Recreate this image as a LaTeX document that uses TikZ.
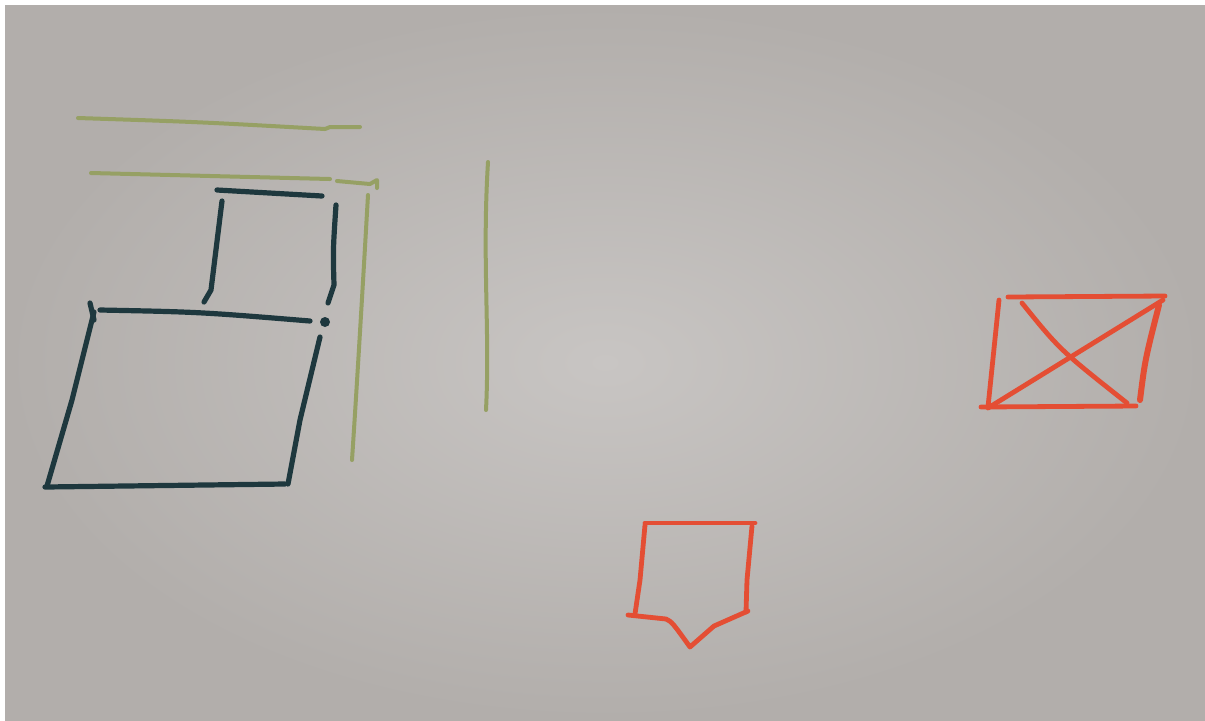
\documentclass[tikz,border=0pt]{standalone}
\definecolor{darkink}{RGB}{30,56,62}
\definecolor{greenink}{RGB}{150,160,100}
\definecolor{redink}{RGB}{228,78,52}
\definecolor{paperin}{RGB}{200,197,195}
\definecolor{paperout}{RGB}{178,174,171}
\begin{document}
\begin{tikzpicture}[x=0.5pt,y=-0.5pt,
  ink/.style={line cap=round,line join=round},
  darkpen/.style={ink,draw=darkink,line width=2.6pt},
  greenpen/.style={ink,draw=greenink,line width=2pt},
  redpen/.style={ink,draw=redink,line width=2.4pt}]
\useasboundingbox (0,0) rectangle (1205,720);
\fill[white] (0,0) rectangle (1205,720);
\shade[inner color=paperin,outer color=paperout] (5,5) rectangle (1205,720);
% green strokes
\draw[greenpen] (78,118) .. controls (200,122) .. (325,129) -- (330,127) -- (360,127);
\draw[greenpen] (91,173) .. controls (210,176) .. (330,179) (337,181) -- (370,184) -- (377,180) -- (377,188);
\draw[greenpen] (368,195) .. controls (362,300) and (356,400) .. (352,460);
\draw[greenpen] (488,162) .. controls (482,260) and (490,330) .. (486,410);
% dark strokes
\draw[darkpen] (217,190) -- (322,196);
\draw[darkpen] (222,201) -- (211,290) -- (204,302);
\draw[darkpen] (336,205) .. controls (333,250) .. (334,285) -- (328,303);
\draw[darkpen] (100,310) .. controls (200,312) .. (310,321);
\draw[darkpen] (90,303) -- (94,320);
\fill[darkink] (325,322) circle (5);
\draw[darkpen] (320,337) -- (300,420) -- (288,484);
\draw[darkpen] (94,312) -- (72,400) -- (47,486);
\draw[darkpen] (45,487) -- (285,484);
% red crossed box
\draw[redpen] (1008,297) -- (1165,296);
\draw[redpen] (999,300) -- (988,407);
\draw[redpen] (981,407) -- (1136,406);
\draw[redpen,line width=3pt] (1159,305) .. controls (1145,360) .. (1140,400);
\draw[redpen] (988,408) -- (1163,300);
\draw[redpen] (1022,303) .. controls (1060,350) .. (1127,403);
% red pentagon
\draw[redpen] (645,523) -- (755,523);
\draw[redpen] (645,525) -- (640,580) -- (635,614);
\draw[redpen] (752,526) -- (747,580) -- (746,612);
\draw[redpen] (628,615) -- (666,619) .. controls (672,622) .. (690,647) -- (714,626) -- (748,611);
\end{tikzpicture}
\end{document}
